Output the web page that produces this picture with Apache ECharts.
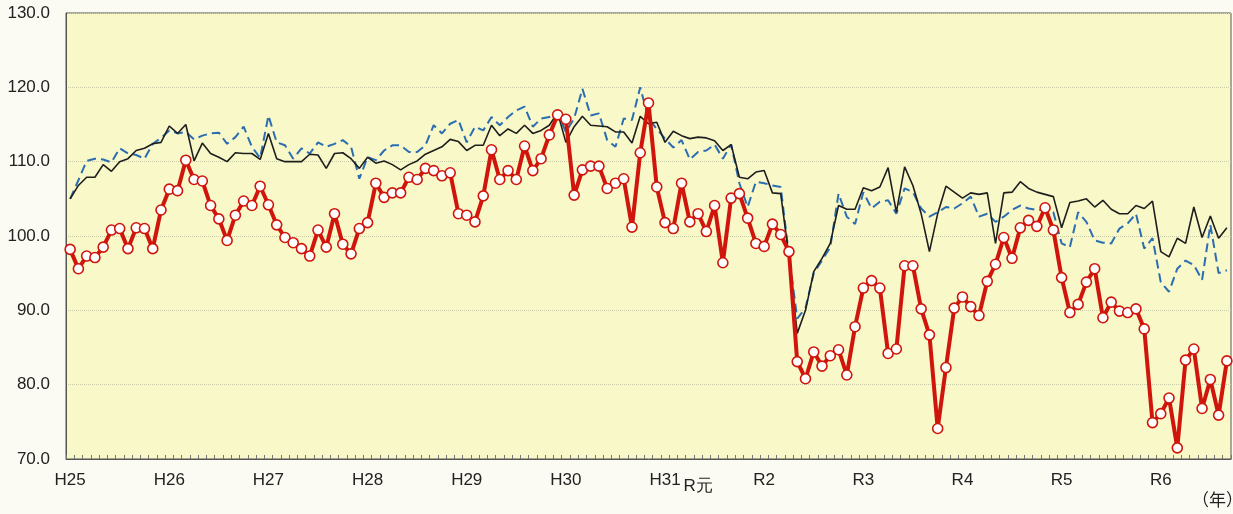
<!DOCTYPE html>
<html><head><meta charset="utf-8">
<script src="https://cdn.jsdelivr.net/npm/echarts@6/dist/echarts.min.js"></script>
<style>html,body{margin:0;padding:0;background:#FBFBF3;}#c{width:1233px;height:514px;}</style>
</head><body><div id="c"></div>
<script>
// monthly categories: 2013/1 .. 2024/9
const firstYear = 2013;
const monthCount = 141;
const categories = [];
for (let i = 0; i < monthCount; i++) {
  categories.push((firstYear + Math.floor(i / 12)) + '/' + (i % 12 + 1));
}
const tickIndex = [0, 12, 24, 36, 48, 60, 72, 76, 84, 96, 108, 120, 132];
const tickLabels = ['H25', 'H26', 'H27', 'H28', 'H29', 'H30', 'H31', 'R元', 'R2', 'R3', 'R4', 'R5', 'R6'];

const redSeries = [
  98.2,95.6,97.3,97.1,98.5,100.8,101.0,98.3,101.1,101.0,98.3,103.5,
  106.3,106.1,110.2,107.6,107.4,104.1,102.3,99.4,102.8,104.7,104.1,106.7,
  104.2,101.5,99.8,99.1,98.3,97.3,100.8,98.5,103.0,98.9,97.6,101.0,
  101.8,107.1,105.2,105.8,105.8,107.9,107.6,109.1,108.8,108.1,108.5,103.0,
  102.8,101.9,105.4,111.6,107.6,108.8,107.6,112.1,108.8,110.4,113.6,116.3,
  115.7,105.5,108.9,109.4,109.4,106.4,107.1,107.7,101.2,111.2,117.9,106.6,
  101.8,101.0,107.1,101.9,103.0,100.6,104.1,96.4,105.1,105.7,102.4,99.0,
  98.6,101.6,100.2,97.9,83.1,80.8,84.4,82.5,83.9,84.7,81.3,87.8,
  93.0,94.0,93.0,84.2,84.8,96.0,96.0,90.2,86.7,74.1,82.3,90.3,
  91.8,90.5,89.3,93.9,96.2,99.8,97.0,101.1,102.1,101.3,103.8,100.8,
  94.4,89.7,90.8,93.8,95.6,89.0,91.1,89.9,89.7,90.2,87.5,74.9,
  76.1,78.2,71.5,83.3,84.8,76.8,80.7,75.9,83.2
];
const blackSeries = [
  105.0,106.8,107.9,107.9,109.6,108.7,110.0,110.4,111.5,111.8,112.4,112.6,
  114.8,113.8,115.0,110.1,112.5,111.1,110.6,110.0,111.2,111.1,111.1,110.3,
  113.8,110.4,110.0,110.0,110.0,111.0,110.9,109.1,111.1,111.2,110.4,109.1,
  110.6,109.8,110.1,109.6,108.9,109.6,110.1,111.0,111.5,112.0,113.0,112.7,
  111.5,112.2,112.2,114.9,113.5,114.4,113.8,114.9,113.8,114.2,114.9,116.6,
  112.6,114.7,116.1,114.9,114.8,114.7,114.0,114.0,112.5,116.1,115.1,115.3,
  112.6,114.1,113.5,113.1,113.3,113.2,112.8,111.5,112.3,107.9,107.7,108.6,
  108.8,105.8,105.7,97.2,86.9,90.0,95.2,97.0,99.0,104.1,103.6,103.6,
  106.5,106.1,106.6,109.2,103.2,109.3,106.8,103.0,97.9,103.0,106.7,105.9,
  105.1,105.8,105.6,105.8,99.0,105.8,105.9,107.3,106.4,105.9,105.6,105.3,
  101.1,104.5,104.7,105.0,103.9,104.8,103.6,103.0,103.0,104.1,103.7,104.7,
  97.9,97.2,99.7,99.0,103.9,99.8,102.7,99.7,101.1
];
const blueSeries = [
  105.0,107.5,110.1,110.4,110.3,109.9,111.8,111.1,110.9,110.4,112.4,113.2,
  114.2,113.8,114.0,113.0,113.5,113.8,113.9,112.4,113.3,114.7,112.0,110.5,
  116.2,112.6,112.2,110.4,111.8,111.1,112.6,112.0,112.4,112.9,112.0,107.7,
  110.6,110.2,111.5,112.2,112.2,111.3,111.3,112.2,114.9,113.8,115.1,115.6,
  112.6,114.7,114.2,116.0,114.9,116.0,116.9,117.4,114.7,115.8,116.0,116.5,
  114.0,115.8,119.8,116.2,116.5,112.9,112.0,115.8,115.6,120.0,115.8,114.4,
  113.1,111.9,112.9,110.3,111.3,111.5,112.3,110.4,112.3,107.1,103.9,107.3,
  107.1,106.8,106.6,97.4,88.9,90.3,95.0,96.7,98.5,105.7,102.6,101.6,
  105.9,103.7,104.6,104.8,103.0,106.4,105.9,103.7,102.6,103.2,103.9,103.7,
  104.4,105.3,102.6,103.0,101.9,102.6,103.5,104.1,103.7,103.5,103.5,103.2,
  99.0,98.5,103.2,101.9,99.4,99.1,99.0,101.0,101.7,103.0,98.3,99.7,
  93.8,92.5,95.6,96.7,96.1,94.1,101.5,95.0,95.4
];

const FONT = '"Liberation Sans", Arial, sans-serif';
const chart = echarts.init(document.getElementById('c'), null, {renderer: 'canvas'});
chart.setOption({
  animation: false,
  backgroundColor: '#FBFBF3',
  textStyle: {fontFamily: FONT},
  grid: {left: 66, right: 2, top: 13, bottom: 55, show: true,
         backgroundColor: '#F8F8C8', borderColor: '#555', borderWidth: 1},
  xAxis: {
    type: 'category', data: categories, boundaryGap: true,
    axisLine: {lineStyle: {color: '#555', width: 1}},
    axisTick: {show: true, inside: true, length: 4, interval: 0, lineStyle: {color: '#777'}},
    axisLabel: {
      interval: function (i) { return tickIndex.indexOf(i) >= 0; },
      formatter: function (v, i) {
        const k = tickIndex.indexOf(i);
        if (k < 0) return '';
        return tickLabels[k] === 'R元' ? '{r|R元}' : tickLabels[k];
      },
      rich: {r: {fontSize: 17, color: '#222', fontFamily: FONT, padding: [6, 0, 0, 0]}},
      fontSize: 17, color: '#222', margin: 13, fontFamily: FONT
    },
    splitLine: {show: false}
  },
  yAxis: {
    type: 'value', min: 70, max: 130, interval: 10,
    axisLine: {show: true, lineStyle: {color: '#555'}},
    axisTick: {show: false},
    axisLabel: {formatter: function (v) { return v.toFixed(1); }, fontSize: 17, color: '#222', margin: 16, fontFamily: FONT},
    splitLine: {lineStyle: {type: 'dotted', color: '#C9CDA8', width: 1}}
  },
  series: [
    {type: 'line', data: blueSeries, symbol: 'none', z: 2,
     lineStyle: {color: '#2C6DB2', width: 2, type: [9, 5]}},
    {type: 'line', data: blackSeries, symbol: 'none', z: 3,
     lineStyle: {color: '#1E1E1E', width: 1.6}},
    {type: 'line', data: redSeries, symbol: 'circle', symbolSize: 10, showAllSymbol: true, z: 4,
     lineStyle: {color: '#D0150C', width: 4},
     itemStyle: {color: '#FFFFFF', borderColor: '#D0150C', borderWidth: 1.6}}
  ],
  graphic: [{type: 'text', left: 1192, top: 491,
             style: {text: '（年）', fontSize: 17, fill: '#222', fontFamily: '"Noto Sans CJK JP", sans-serif'}}]
});
</script></body></html>
